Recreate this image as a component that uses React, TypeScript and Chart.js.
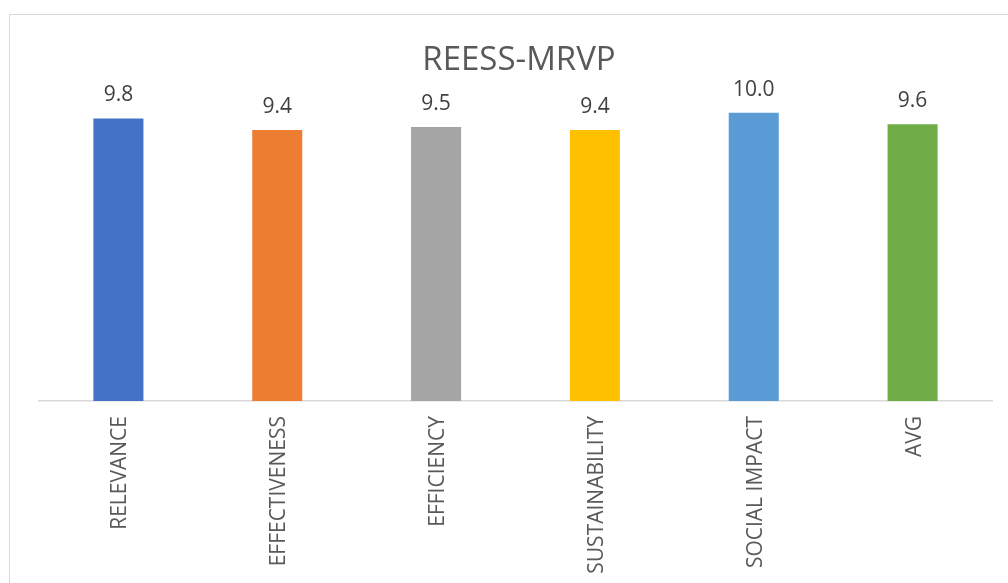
import React, { useEffect, useRef } from "react";
import { Chart, registerables } from "chart.js";

Chart.register(...registerables);

const categories = ["RELEVANCE", "EFFECTIVENESS", "EFFICIENCY", "SUSTAINABILITY", "SOCIAL IMPACT", "AVG"];
const values = [9.8, 9.4, 9.5, 9.4, 10.0, 9.6];
const barColors = ["#4472C4", "#ED7D31", "#A5A5A5", "#FFC000", "#5B9BD5", "#70AD47"];
const chartTitle = "REESS-MRVP";

const FONT = "'Open Sans', sans-serif";

const decorPlugin = {
  id: "decor",
  beforeDraw(chart: any) {
    const ctx = chart.ctx;
    ctx.save();
    ctx.fillStyle = "#ffffff";
    ctx.fillRect(0, 0, chart.width, chart.height);
    ctx.strokeStyle = "#d9d9d9";
    ctx.lineWidth = 1;
    ctx.strokeRect(9.5, 14.5, 1200, 1200);
    ctx.restore();
  },
  afterDraw(chart: any) {
    const ctx = chart.ctx;
    ctx.save();
    // title
    ctx.fillStyle = "#595959";
    ctx.font = `33px ${FONT}`;
    ctx.textAlign = "center";
    ctx.textBaseline = "alphabetic";
    ctx.fillText(chartTitle, 519, 70);
    // data labels
    ctx.font = `21px ${FONT}`;
    ctx.fillStyle = "#404040";
    const meta = chart.getDatasetMeta(0);
    meta.data.forEach((bar: any, i: number) => {
      const v = chart.data.datasets[0].data[i] as number;
      ctx.fillText(v.toFixed(1), bar.x, bar.y - 17);
    });
    ctx.restore();
  },
};

export default function App() {
  const ref = useRef<HTMLCanvasElement | null>(null);
  useEffect(() => {
    if (!ref.current) return;
    const chart = new Chart(ref.current, {
      type: "bar",
      data: {
        labels: categories,
        datasets: [
          {
            data: values,
            backgroundColor: barColors,
            borderWidth: 0,
            barPercentage: 0.315,
            categoryPercentage: 1,
          },
        ],
      },
      options: {
        animation: false,
        responsive: false,
        layout: { padding: { left: 39, right: 16, top: 55, bottom: 0 } },
        plugins: {
          legend: { display: false },
          title: { display: false },
          tooltip: { enabled: false },
        },
        scales: {
          x: {
            grid: { display: false, drawTicks: false },
            border: { display: true, color: "#d9d9d9", width: 1.5 },
            ticks: {
              color: "#595959",
              font: { family: FONT, size: 21 },
              minRotation: 90,
              maxRotation: 90,
              padding: 15,
              labelOffset: 2,
              autoSkip: false,
            },
            afterFit: (scale: any) => {
              scale.height = 182;
            },
          },
          y: {
            display: false,
            min: 0,
            max: 12,
          },
        },
      },
      plugins: [decorPlugin],
    });
    return () => chart.destroy();
  }, []);
  return (
    <div style={{ position: "fixed", left: 0, top: 0, width: 1008, height: 583, background: "#fff" }}>
      <canvas ref={ref} width={1008} height={583} style={{ display: "block" }} />
    </div>
  );
}
